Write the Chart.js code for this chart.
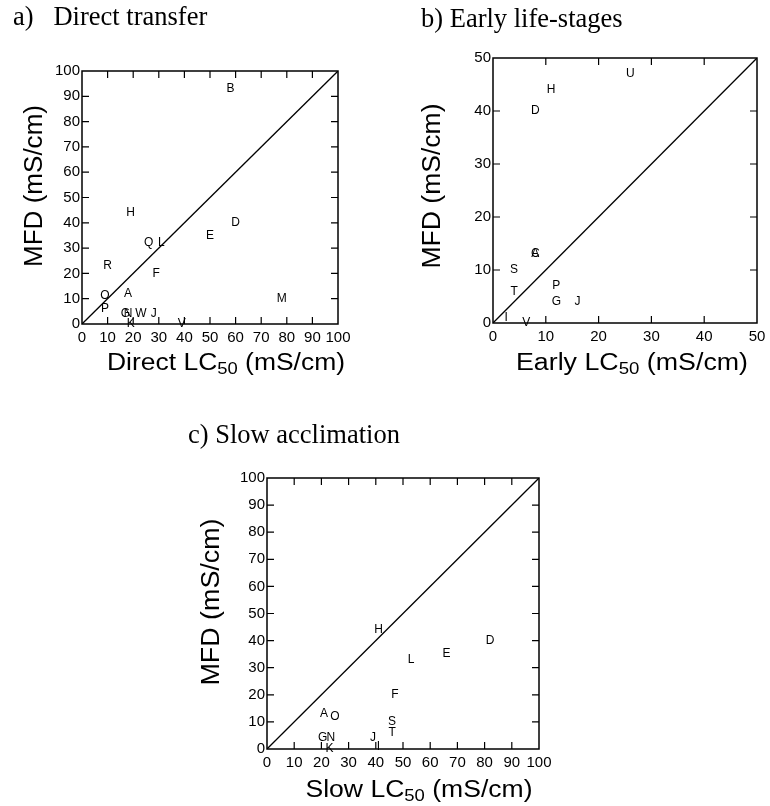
<!DOCTYPE html>
<html><head><meta charset="utf-8">
<script src="https://cdn.jsdelivr.net/npm/chart.js@4"></script>
<style>
html,body{margin:0;padding:0;background:#fff;width:770px;height:806px;overflow:hidden}
canvas{position:absolute;left:0;top:0}
</style></head><body>
<script>
// ---------- data ----------
const directLabels = ['B','H','D','E','Q','L','R','F','O','A','M','P','G','N','W','J','K','V'];
const directLC50   = [58, 19, 60, 50, 26, 31, 10, 29,  9, 18, 78,  9, 17, 18, 23, 28, 19, 39];
const directMFD    = [93, 44, 40, 35, 32, 32, 23, 20, 11, 12, 10,  6,  4,  4,  4,  4,  0,  0];

const earlyLabels = ['U','H','D','A','C','S','T','P','G','J','I','V'];
const earlyLC50   = [26, 11,  8,  8,  8,  4,  4, 12, 12, 16, 2.5, 6.3];
const earlyMFD    = [47, 44, 40, 13, 13, 10,  6,  7,  4,  4,  1,  0];

const slowLabels = ['H','D','E','L','F','A','O','S','T','G','N','K','J','I'];
const slowLC50   = [41, 82, 66, 53, 47, 21, 25, 46, 46, 20.5, 23.5, 23, 39, 41];
const slowMFD    = [44, 40, 35, 33, 20, 13, 12, 10,  6,  4,  4,  0,  4,  1];

const ticks100 = [0,10,20,30,40,50,60,70,80,90,100];
const ticks50  = [0,10,20,30,40,50];
const identity100 = [0,100];
const identity50  = [0,50];

const panelTitles = ['a)   Direct transfer','b) Early life-stages','c) Slow acclimation'];
const yTitle = 'MFD (mS/cm)';
const xTitlePrefixes = ['Direct LC','Early LC','Slow LC'];
const xTitleSub = '50';
const xTitleSuffix = ' (mS/cm)';

// ---------- drawing helpers ----------
Chart.defaults.font.family = "'Liberation Sans', Arial, sans-serif";
Chart.defaults.color = '#000';
const SANS = "'Liberation Sans', Arial, sans-serif";
const SERIF = "'Liberation Serif', 'Times New Roman', serif";
const TICK_LEN = 7;

function drawRich(ctx, parts, targetW, size) {
  let w = 0;
  parts.forEach(p => {
    ctx.font = (p.sub ? Math.round(size * 0.7) : size) + 'px ' + SANS;
    p.w = ctx.measureText(p.t).width; w += p.w;
  });
  const sx = targetW / w;
  ctx.scale(sx, 1);
  let xx = -w / 2;
  ctx.textAlign = 'left'; ctx.textBaseline = 'alphabetic'; ctx.fillStyle = '#000';
  parts.forEach(p => {
    ctx.font = (p.sub ? Math.round(size * 0.7) : size) + 'px ' + SANS;
    ctx.fillText(p.t, xx, p.sub ? size * 0.16 : 0);
    xx += p.w;
  });
}

const panelPlugin = {
  id: 'panel',
  afterDatasetsDraw(chart, args, o) {
    const {ctx, chartArea: a, scales: {x, y}} = chart;
    ctx.save();
    // frame
    ctx.strokeStyle = '#000';
    ctx.lineWidth = 1.5;
    ctx.strokeRect(a.left, a.top, a.right - a.left, a.bottom - a.top);
    // inner ticks on all four sides
    ctx.lineWidth = 1.2;
    ctx.beginPath();
    x.ticks.forEach(t => {
      if (t.value <= x.min || t.value >= x.max) return;
      const px = x.getPixelForValue(t.value);
      ctx.moveTo(px, a.bottom); ctx.lineTo(px, a.bottom - TICK_LEN);
      ctx.moveTo(px, a.top); ctx.lineTo(px, a.top + TICK_LEN);
    });
    y.ticks.forEach(t => {
      if (t.value <= y.min || t.value >= y.max) return;
      const py = y.getPixelForValue(t.value);
      ctx.moveTo(a.left, py); ctx.lineTo(a.left + TICK_LEN, py);
      ctx.moveTo(a.right, py); ctx.lineTo(a.right - TICK_LEN, py);
    });
    ctx.stroke();
    // letter markers
    const meta = chart.getDatasetMeta(1);
    ctx.fillStyle = '#000';
    ctx.font = '12px ' + SANS;
    ctx.textAlign = 'center'; ctx.textBaseline = 'middle';
    meta.data.forEach((pt, i) => ctx.fillText(o.letters[i], pt.x, pt.y));
    // panel title
    ctx.font = '26.5px ' + SERIF;
    ctx.textAlign = 'left'; ctx.textBaseline = 'alphabetic';
    ctx.fillText(o.title, o.titleX, o.titleY);
    // x-axis title with subscript
    ctx.save();
    ctx.translate(o.xtX, o.xtY);
    drawRich(ctx, [{t: o.xPrefix}, {t: xTitleSub, sub: true}, {t: xTitleSuffix}], o.xtW, 23);
    ctx.restore();
    // y-axis title
    ctx.save();
    ctx.translate(o.ytX, o.ytY);
    ctx.rotate(-Math.PI / 2);
    drawRich(ctx, [{t: yTitle}], o.ytW, 25);
    ctx.restore();
    ctx.restore();
  }
};

function makePanel(p) {
  const cv = document.createElement('canvas');
  cv.width = 770; cv.height = 806;
  cv.style.width = '770px'; cv.style.height = '806px';
  document.body.appendChild(cv);
  const yW = 40, xH = 30;
  const pts = p.xs.map((v, i) => ({x: v, y: p.ys[i]}));
  const diag = p.diag.map(v => ({x: v, y: v}));
  const fitY = s => { s.width = yW; s.paddingTop = 0; s.paddingBottom = 0; s.paddingLeft = 0; s.paddingRight = 0; };
  const fitX = s => { s.height = xH; s.paddingTop = 0; s.paddingBottom = 0; s.paddingLeft = 0; s.paddingRight = 0; };
  new Chart(cv, {
    type: 'scatter',
    data: {
      datasets: [
        {type: 'line', data: diag, borderColor: '#000', borderWidth: 1.3, pointRadius: 0, fill: false, tension: 0},
        {data: pts, pointRadius: 0, pointHoverRadius: 0, backgroundColor: 'rgba(0,0,0,0)', borderColor: 'rgba(0,0,0,0)'}
      ]
    },
    options: {
      responsive: false, animation: false, devicePixelRatio: 1,
      events: [],
      layout: {padding: {left: p.L - yW, top: p.T, right: 770 - p.R, bottom: 806 - p.B - xH}},
      plugins: {
        legend: {display: false}, tooltip: {enabled: false},
        panel: {letters: p.letters, title: p.title, titleX: p.titleX, titleY: p.titleY,
                xPrefix: p.xPrefix, xtX: p.xtX, xtY: p.xtY, xtW: p.xtW,
                ytX: p.ytX, ytY: p.ytY, ytW: p.ytW}
      },
      scales: {
        x: {type: 'linear', min: 0, max: p.max, afterFit: fitX,
            grid: {display: false, drawTicks: false}, border: {display: false},
            afterBuildTicks: s => { s.ticks = p.tickVals.map(v => ({value: v})); },
            ticks: {autoSkip: false, maxRotation: 0, minRotation: 0, padding: 5, color: '#000', font: {size: 15}}},
        y: {type: 'linear', min: 0, max: p.max, afterFit: fitY,
            grid: {display: false, drawTicks: false}, border: {display: false},
            afterBuildTicks: s => { s.ticks = p.tickVals.map(v => ({value: v})); },
            ticks: {autoSkip: false, padding: 2, color: '#000', font: {size: 15}}}
      }
    },
    plugins: [panelPlugin]
  });
}

makePanel({L: 82, T: 71, R: 338, B: 324, max: 100, tickVals: ticks100, diag: identity100,
  xs: directLC50, ys: directMFD, letters: directLabels,
  title: panelTitles[0], titleX: 13, titleY: 25,
  xPrefix: xTitlePrefixes[0], xtX: 226, xtY: 370, xtW: 238,
  ytX: 42, ytY: 186, ytW: 162});
makePanel({L: 493, T: 58, R: 757, B: 323, max: 50, tickVals: ticks50, diag: identity50,
  xs: earlyLC50, ys: earlyMFD, letters: earlyLabels,
  title: panelTitles[1], titleX: 421, titleY: 27,
  xPrefix: xTitlePrefixes[1], xtX: 632, xtY: 370, xtW: 232,
  ytX: 440, ytY: 186, ytW: 165});
makePanel({L: 267, T: 478, R: 539, B: 749, max: 100, tickVals: ticks100, diag: identity100,
  xs: slowLC50, ys: slowMFD, letters: slowLabels,
  title: panelTitles[2], titleX: 188, titleY: 443,
  xPrefix: xTitlePrefixes[2], xtX: 419, xtY: 797, xtW: 227,
  ytX: 219, ytY: 602, ytW: 167});
</script>
</body></html>
